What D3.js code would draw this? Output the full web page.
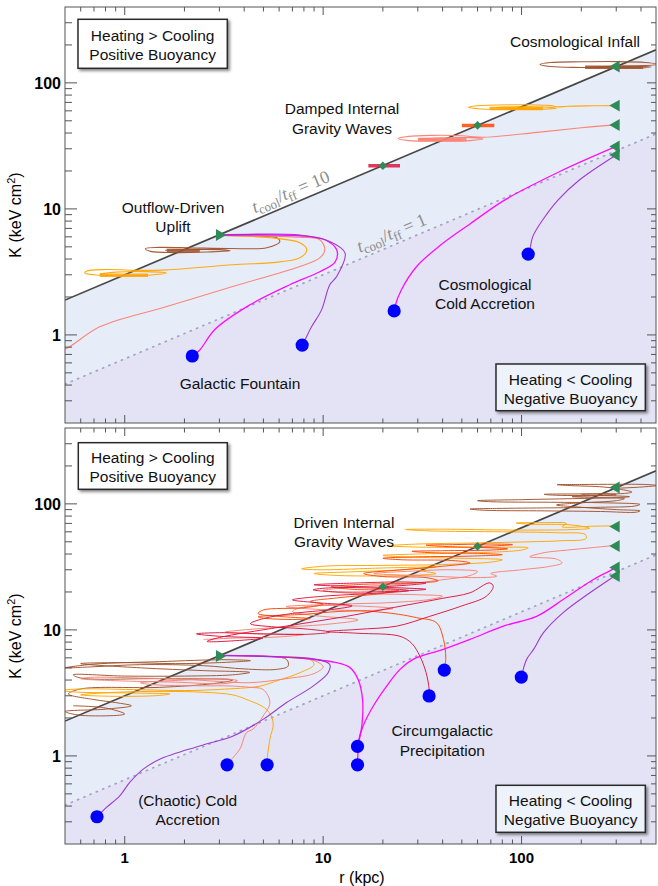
<!DOCTYPE html>
<html><head><meta charset="utf-8">
<script src="https://cdn.jsdelivr.net/npm/d3@7"></script>
<style>body{margin:0;background:#fff}svg{display:block}</style>
</head><body><svg id="c" width="658" height="886"></svg>
<script>
// ---------------- DATA (r in kpc, K in keV cm^2) ----------------
const thresholdR = [0.5, 476];
const ratio10K = [1.89, 182.8];
const ratio1K = [0.407, 39.4];

const infallTriangles = [[300,135],[300,66],[300,46.4],[300,31.3],[300,26.8]];
const outflowTriangle = [[3,6.2]];
const diamonds = [[20,22],[60,46]];
const topDots = [[2.19,0.68],[7.84,0.83],[22.8,1.55],[108,4.38]];
const botDots = [[0.725,0.329],[3.28,0.849],[5.22,0.849],[14.9,1.19],[14.9,0.849],[34.2,2.99],[40.8,4.8],[99.7,4.22]];

// ---- top panel trajectories ----
const topBrownInfall = [[300,135],[420,137],[490,140],[420,145],[300,147.5],[200,147],[140,145],[124,140],[140,135],[200,132.5],[300,131.5],[420,132],[450,134],[380,135.5],[260,135],[210,133],[280,132.5],[400,132.8]];
const topBrownCore = [[209,133],[410,133]];
const topOrangeInfall = [[300,66],[230,65.8],[170,65.3],[153,64.5],[140,66],[110,67],[75,66.8],[58,65.5],[54,64],[60,62.3],[85,61.5],[125,61.8],[150,63],[130,64.3],[95,64.6],[75,63.8],[90,62.8],[125,62.7]];
const topOrangeCore = [[69,62.6],[128,62.6]];
const topSalmonInfall = [[300,46.4],[200,44],[120,40.5],[64,37],[50,38.1],[35,38.3],[27,37.6],[23.9,36.2],[27,34.8],[40,34.4],[55,34.8],[64,36],[55,36.8],[40,36.6],[30,35.8],[35,35.3],[50,35.5]];
const topSalmonCore = [[30.1,35.5],[52.8,35.5]];
const topCrimsonBar = [[16.9,22],[24.4,22]];
const topOredBar = [[50,45.8],[72.9,45.8]];
const topMagentaInfall = [[300,31.3],[156,19.8],[82.5,11.8],[55,7.6],[38.7,5.1],[29.6,3.49],[24.8,2.28],[23,1.68],[22.8,1.55]];
const topPurpleInfall = [[300,26.8],[197,17.1],[153,11.8],[128,8.2],[114,6.05],[110,4.74],[108,4.38]];
const topBrownOut = [[3,6.15],[4.5,6.1],[5.84,5.9],[6.05,5.49],[5.2,4.92],[3.4,4.85],[2.2,4.9],[1.5,4.95],[1.27,4.85],[1.35,4.6],[1.8,4.5],[2.6,4.55],[3.4,4.65],[3.0,4.75],[2.0,4.75],[1.6,4.7]];
const topBrownOutCore = [[1.63,4.68],[2.39,4.68]];
const topOrangeOut = [[3,6.15],[5.39,5.9],[7.63,5.39],[8.27,4.74],[7.63,4.09],[6.05,3.8],[3.5,3.6],[1.63,3.28],[1.2,3.25],[0.8,3.3],[0.64,3.2],[0.629,3.1],[0.7,3.0],[1.0,2.95],[1.4,3.0],[1.62,3.1],[1.3,3.18],[0.9,3.15],[0.75,3.05]];
const topOrangeOutCore = [[0.748,2.97],[1.31,2.97]];
const topSalmonOut = [[3,6.15],[7.63,5.96],[9.62,5.69],[10.2,4.74],[9.62,4.09],[7.63,3.49],[3.5,2.42],[1.63,1.68],[0.748,1.16],[0.508,0.78],[0.45,0.75]];
const topMagentaOut = [[3,6.2],[7.63,6.12],[10.2,5.69],[11.7,4.74],[11.5,3.8],[9.62,3.17],[6.79,2.5],[4.27,1.73],[2.84,1.1],[2.39,0.76],[2.19,0.68]];
const topPurpleOut = [[3,6.2],[7.63,6.2],[10.8,5.52],[12.9,4.46],[11.7,2.91],[10.8,2.5],[9.82,1.58],[8.74,1.16],[8.09,0.91],[7.84,0.83]];

// ---- bottom panel trajectories ----
const botBrownInfall = [[300,133],[400,136],[480,140],[420,142.5],[300,143],[200,142.5],[151,142],[170,140],[260,136],[320,130],[360,124],[330,121],[200,120],[130,119],[150,117],[280,116],[350,114],[300,112],[180,110],[100,108],[60,106],[70,104],[140,103],[260,102],[395,99],[370,96],[250,94],[140,93],[75,92],[55,91],[65,89],[130,88],[250,87],[380,86],[395,88],[300,90],[200,94],[150,98],[200,102],[300,106],[330,110],[260,112],[180,114],[230,116],[300,118],[260,120],[200,119]];
const botOrangeInfall = [[300,67],[230,66.5],[160,66],[168,70],[130,71],[94,70.5],[110,69],[180,68],[220,64],[180,62.5],[90,62],[40,63],[26,62.6],[35,61],[80,60],[150,59],[210,57],[211,53],[160,51],[110,50],[60,49],[30,48],[21.3,46.5],[28,45.5],[60,45],[108,44.8],[100,43],[60,41],[30,40],[20,39],[25,38],[50,37],[80,36],[70,34.5],[40,33],[20,32.5],[10,32],[7.8,30.5],[10,30],[20,31],[37,31.5],[25,30],[15,29],[9,28],[12,27],[25,27],[37,28],[30,29.5]];
const botSalmonInfall = [[300,47],[230,45],[170,43],[130,41],[110,38],[150,36.5],[160,34],[140,32],[100,30],[70,28],[75,26.7],[60,26],[30,27],[18,28],[25,29],[45,30],[60,29],[55,27],[40,25],[25,23],[15,22],[10,20.5],[14,19.5],[30,19],[40,18.5],[35,17.5],[22.5,16.5],[12,16],[6.5,15.3],[9,14.6],[18,14.3],[22.5,14.8],[14,15.5],[8,15.2],[7,14],[9,13],[15,12],[10,11],[6,10.5],[4,10],[3.2,9.6],[4.5,9.3],[8,9.2],[6,8.8],[3.5,8.6],[2.5,8.4]];
const botCrimson = [[20,22],[28,22.8],[33,23.5],[25,24],[14,23.5],[9,22.8],[13,22.2],[25,21.5],[33,21],[24,20.3],[12,20],[8.9,20.8],[11,21.6],[20,21.3],[27,20.5],[18,19.5],[10,18.5],[7,17.3],[9,16.5],[14,15.5],[11,14.5],[7,13.5],[5,12.3],[4.3,11.2],[5.5,10.6],[8,10.2],[10.8,9.6],[8,9.2],[5,9.3],[3,9.5],[2.3,9.3],[3,8.9],[4.97,8.6],[4,8.3],[2.6,8.1],[3,8.7],[6,10.5],[12,12.5],[25,15.5],[40,17.8],[55,19.7],[69,23.6],[72,22.2],[66.5,18.5],[50,15.5],[34.4,12.8],[23.4,10.7],[15,10.1],[10.5,9.7],[15,9.4],[24.4,8.9],[28,7.8],[30.7,6.2],[33,4.6],[34.2,3.4],[34.2,3.0]];
const botOred = [[60,46],[75,46.5],[90,47.5],[70,48],[45,47.5],[33,47],[40,46],[65,45],[85,44],[70,43],[40,42.5],[28,42],[35,41],[60,40.5],[80,39.5],[55,38.5],[30,38],[20,37],[25,36],[45,35.5],[55,34],[40,32],[25,30],[16,28],[20,26.5],[33,26],[38,24.5],[28,23.5],[16,23],[11,22],[14,21],[24,20.5],[20,19.5],[12,18],[8.6,16.8],[10,16],[8,15],[5,14.4],[4.7,13.5],[6,12.8],[8.6,12.3],[7,12.1],[5,12.4],[4.7,12.7],[8,13.3],[12,14],[16.5,14.1],[24,13.3],[29.6,12.5],[37.3,11.4],[40.4,8.4],[41.5,6],[40.8,4.8]];
const botMagentaInfall = [[300,31.9],[290,30.5],[230,25.1],[162,17.4],[119,12.8],[80.9,10.7],[55,8.4],[40.3,7.0],[28.4,5.83],[24.4,4.86],[20.9,3.58],[17.9,2.49],[15.9,1.73],[15.0,1.28],[14.9,1.19]];
const botPurpleInfall = [[300,27.3],[221,19.7],[162,13.7],[129,9.5],[115,7.0],[106,5.83],[99.7,4.22]];
const botBrownOut = [[3,6.27],[4.5,6.2],[6.54,5.83],[6.66,5.16],[5.81,4.86],[4,4.9],[2.5,5.2],[1.2,5.3],[0.7,5.1],[0.5,5.0],[0.7,5.35],[1.5,5.6],[3.2,5.8],[4.3,5.7],[3,5.5],[1.8,5.4],[1.0,5.5],[0.6,5.4],[1.2,5.0],[2.5,4.75],[4.27,4.6],[3.5,4.4],[2,4.3],[1,4.3],[0.55,4.4],[0.6,4.15],[1.5,4.1],[3.5,4.0],[2.8,3.75],[1.5,3.5],[0.6,3.4],[0.52,3.1],[0.7,2.8],[0.9,2.65],[1.08,2.5],[0.8,2.35],[0.5,2.25],[0.6,2.1],[1.0,2.15],[0.8,2.4],[0.55,2.5]];
const botOrangeOut = [[3,6.27],[5.39,6.16],[8.6,5.83],[9,5.3],[7.63,4.57],[6,4.0],[4.79,3.58],[3.01,3.37],[2,3.3],[1.2,3.35],[0.6,3.4],[0.47,3.3],[0.6,3.2],[1.2,3.15],[1.69,3.1],[1.4,3.0],[0.8,2.98],[0.6,3.05],[0.9,3.2],[1.6,3.25],[2.5,3.2],[3.5,3.05],[4.1,2.81],[5.18,2.34],[5.6,1.84],[5.39,1.36],[5.22,0.94],[5.22,0.85]];
const botSalmonOut = [[3,6.27],[6,6.1],[9,5.7],[10,5.1],[9,4.5],[6.5,4.1],[4.27,3.81],[3,3.9],[2,4.05],[1.2,4.15],[0.67,4.2],[0.6,4.1],[0.9,3.95],[1.8,3.85],[3.2,3.75],[3.7,3.95],[3,4.1],[2,4.0],[1.2,3.8],[1.5,3.65],[2.5,3.6],[3.39,3.59],[4.27,3.5],[4.98,3.37],[5.39,2.65],[4.98,2.07],[4.43,1.63],[4.11,1.53],[3.8,1.13],[3.39,0.91],[3.28,0.85]];
const botMagentaOut = [[3,6.27],[5.39,6.16],[8.91,5.83],[11.5,5.52],[13.6,5.04],[15.0,4.05],[15.8,2.81],[15.7,1.78],[15.1,1.24],[14.9,0.85]];
const botPurpleOut = [[3,6.27],[6.05,6.1],[9.4,5.83],[10.8,5.32],[10.6,4.57],[8.9,3.58],[6.54,2.65],[4.98,1.95],[3.52,1.44],[2.39,1.2],[1.5,0.94],[1.24,0.785],[1.06,0.616],[0.944,0.482],[0.809,0.39],[0.725,0.329]];

// ---------------- STYLE ----------------
const BROWN='#a0522d', ORANGE='#ffa500', SALMON='#fa8072', CRIMSON='#dc143c', ORED='#ff4500', MAGENTA='#ff00ff', PURPLE='#9932cc', GREEN='#2e8b57', BLUE='#0000ff';
const FONT = "'Liberation Sans', Arial, Helvetica, sans-serif";

const trajTop = [
  [topBrownInfall,BROWN,1.1],[topBrownCore,BROWN,3.5],
  [topOrangeInfall,ORANGE,1.1],[topOrangeCore,ORANGE,3.5],
  [topSalmonInfall,SALMON,1.1],[topSalmonCore,SALMON,3.5],
  [topCrimsonBar,CRIMSON,3.5],[topOredBar,ORED,3.5],
  [topMagentaInfall,MAGENTA,1.3],[topPurpleInfall,PURPLE,1.1],
  [topBrownOut,BROWN,1.1],[topBrownOutCore,BROWN,3.5],
  [topOrangeOut,ORANGE,1.1],[topOrangeOutCore,ORANGE,3.5],
  [topSalmonOut,SALMON,1.1],[topMagentaOut,MAGENTA,1.3],[topPurpleOut,PURPLE,1.1]
];
const trajBot = [
  [botBrownInfall,BROWN,1.0],[botOrangeInfall,ORANGE,1.0],[botSalmonInfall,SALMON,1.0],
  [botOred,ORED,1.0],[botCrimson,CRIMSON,1.0],
  [botMagentaInfall,MAGENTA,1.3],[botPurpleInfall,PURPLE,1.1],
  [botBrownOut,BROWN,1.0],[botOrangeOut,ORANGE,1.0],[botSalmonOut,SALMON,1.0],
  [botMagentaOut,MAGENTA,1.3],[botPurpleOut,PURPLE,1.1]
];

// ---------------- DRAW ----------------
const svg = d3.select('#c');
const x = d3.scaleLog().domain([0.5,476]).range([65,656]);
const panels = [
  {id:'top', y:d3.scaleLog().domain([0.2,400]).range([423,7]), top:7, bottom:423, traj:trajTop, dots:topDots, labels:true},
  {id:'bot', y:d3.scaleLog().domain([0.2,400]).range([844,428]), top:428, bottom:844, traj:trajBot, dots:botDots, labels:false}
];
const defs = svg.append('defs');
const f = defs.append('filter').attr('id','sh').attr('x','-10%').attr('y','-10%').attr('width','130%').attr('height','140%');
f.append('feDropShadow').attr('dx',2).attr('dy',2).attr('stdDeviation',1.6).attr('flood-color','#000').attr('flood-opacity',0.45);

const L = x.range()[0], R = x.range()[1];

panels.forEach(p => {
  const y = p.y;
  defs.append('clipPath').attr('id','clip-'+p.id).append('rect')
    .attr('x',L).attr('y',p.top).attr('width',R-L).attr('height',p.bottom-p.top);
  const g = svg.append('g').attr('clip-path','url(#clip-'+p.id+')');
  g.append('rect').attr('x',L).attr('y',p.top).attr('width',R-L).attr('height',p.bottom-p.top).attr('fill','#fff');
  const band = thresholdR.map((r,i)=>({r, k1:ratio1K[i], k10:ratio10K[i]}));
  g.append('path').datum(band).attr('fill','#e7edf8')
    .attr('d', d3.area().x(d=>x(d.r)).y0(d=>y(d.k1)).y1(d=>y(d.k10)));
  g.append('path').datum(band).attr('fill','#e3e3f5')
    .attr('d', d3.area().x(d=>x(d.r)).y0(p.bottom).y1(d=>y(d.k1)));
  const straight = d3.line().x(d=>x(d[0])).y(d=>y(d[1]));
  const l1 = thresholdR.map((r,i)=>[r,ratio1K[i]]);
  const l10 = thresholdR.map((r,i)=>[r,ratio10K[i]]);
  g.append('path').datum(l1).attr('d',straight).attr('fill','none').attr('stroke','#a3a3c4')
    .attr('stroke-width',1.7).attr('stroke-dasharray','1.2 5.6').attr('stroke-linecap','round');
  g.append('path').datum(l10).attr('d',straight).attr('fill','none').attr('stroke','#474747').attr('stroke-width',1.7);

  const curve = d3.line().x(d=>x(d[0])).y(d=>y(d[1])).curve(d3.curveCatmullRom.alpha(0.5));
  p.traj.forEach(([pts,col,w]) => {
    g.append('path').datum(pts).attr('d', pts.length>2 ? curve : straight)
      .attr('fill','none').attr('stroke',col).attr('stroke-width',w)
      .attr('stroke-opacity', w>2 ? 0.85 : 0.95).attr('stroke-linejoin','round');
  });

  // markers
  const tri = d3.symbol().type(d3.symbolTriangle).size(62);
  g.selectAll('.tl').data(infallTriangles).join('path')
    .attr('d',tri).attr('fill',GREEN)
    .attr('transform',d=>`translate(${x(d[0])},${y(d[1])}) rotate(-90)`);
  g.selectAll('.tr').data(outflowTriangle).join('path')
    .attr('d',tri).attr('fill',GREEN)
    .attr('transform',d=>`translate(${x(d[0])},${y(d[1])}) rotate(90)`);
  const sq = d3.symbol().type(d3.symbolSquare).size(38);
  g.selectAll('.dm').data(diamonds).join('path')
    .attr('d',sq).attr('fill',GREEN)
    .attr('transform',d=>`translate(${x(d[0])},${y(d[1])}) rotate(45)`);
  g.selectAll('.dot').data(p.dots).join('circle')
    .attr('cx',d=>x(d[0])).attr('cy',d=>y(d[1])).attr('r',6.6).attr('fill',BLUE);

  // threshold labels (top panel only)
  if (p.labels) {
    const p0=[x(thresholdR[0]),y(ratio10K[0])], p1=[x(thresholdR[1]),y(ratio10K[1])];
    const ang = Math.atan2(p1[1]-p0[1], p1[0]-p0[0])*180/Math.PI;
    const onLine = (a,b,px)=>{const t=(px-a[0])/(b[0]-a[0]); return [px, a[1]+t*(b[1]-a[1])];};
    const q0=[x(thresholdR[0]),y(ratio1K[0])], q1=[x(thresholdR[1]),y(ratio1K[1])];
    [[onLine(p0,p1,257),'10'],[onLine(q0,q1,362),'1']].forEach(([pt,val])=>{
      const t = svg.append('text').attr('transform',`translate(${pt[0]},${pt[1]}) rotate(${ang})`)
        .attr('y',-6).attr('font-family',"'Liberation Serif','DejaVu Serif',serif").attr('font-size',18).attr('fill','#8c8c8c');
      t.append('tspan').attr('font-style','italic').text('t');
      t.append('tspan').attr('font-size',13).attr('dy',3.5).text('cool');
      t.append('tspan').attr('dy',-3.5).text('/');
      t.append('tspan').attr('font-style','italic').text('t');
      t.append('tspan').attr('font-size',13).attr('dy',3.5).text('ff');
      t.append('tspan').attr('dy',-3.5).text(' = '+val);
    });
  }

  // frame and ticks
  const ax = svg.append('g').attr('stroke','#555').attr('stroke-width',1);
  const isMajor = v => Math.abs(Math.log10(v)-Math.round(Math.log10(v)))<1e-9;
  x.ticks().filter(v=>v>0.5).forEach(v=>{
    const xx = x(v), len = isMajor(v)?8:4.5;
    ax.append('line').attr('x1',xx).attr('x2',xx).attr('y1',p.top).attr('y2',p.top+len);
    ax.append('line').attr('x1',xx).attr('x2',xx).attr('y1',p.bottom).attr('y2',p.bottom-len);
  });
  y.ticks().filter(v=>v>0.2 && v<400).forEach(v=>{
    const yy = y(v), m = isMajor(v);
    ax.append('line').attr('x1',L).attr('x2',L+(m?12:7)).attr('y1',yy).attr('y2',yy);
    ax.append('line').attr('x1',R).attr('x2',R-(m?9:5)).attr('y1',yy).attr('y2',yy);
  });
  ax.append('rect').attr('x',L).attr('y',p.top).attr('width',R-L).attr('height',p.bottom-p.top).attr('fill','none');

  [100,10,1].forEach(v=>{
    svg.append('text').attr('x',61).attr('y',y(v)).attr('dy','0.36em').attr('text-anchor','end')
      .attr('font-family',FONT).attr('font-size',16).attr('font-weight','bold').attr('fill','#000').text(String(v));
  });
  svg.append('text').attr('transform',`translate(21,${(p.top+p.bottom)/2}) rotate(-90)`)
    .attr('text-anchor','middle').attr('font-family',FONT).attr('font-size',16).attr('fill','#000')
    .html('K (keV cm<tspan font-size="11" dy="-6">2</tspan><tspan dy="6">)</tspan>');
});

// x tick labels and axis title
[1,10,100].forEach(v=>{
  svg.append('text').attr('x',x(v)).attr('y',858).attr('dy','0.36em').attr('text-anchor','middle')
    .attr('font-family',FONT).attr('font-size',15).attr('font-weight','bold').text(String(v));
});
svg.append('text').attr('x',362).attr('y',877).attr('dy','0.36em').attr('text-anchor','middle')
  .attr('font-family',FONT).attr('font-size',16).text('r (kpc)');

// annotations
const notes = [
  ['Cosmological Infall',575,41],
  ['Damped Internal',342,108],['Gravity Waves',342,128],
  ['Outflow-Driven',173,207],['Uplift',173,226],
  ['Galactic Fountain',240,383],
  ['Cosmological',485,284],['Cold Accretion',485,303.5],
  ['Driven Internal',344,522.7],['Gravity Waves',344,541.7],
  ['(Chaotic) Cold',187.7,800.7],['Accretion',187.7,819.5],
  ['Circumgalactic',442.3,730.7],['Precipitation',442.3,750]
];
notes.forEach(([t,xx,yy])=>{
  svg.append('text').attr('x',xx).attr('y',yy).attr('dy','0.36em').attr('text-anchor','middle')
    .attr('font-family',FONT).attr('font-size',15.5).attr('fill','#111').text(t);
});
const boxes = [
  [78,19.3,149.3,49,'#ffffff','Heating > Cooling','Positive Buoyancy',35,54.5],
  [496,364,149.3,46.7,'#eef2fb','Heating < Cooling','Negative Buoyancy',379.3,398.5],
  [78.3,442.7,149,46.6,'#ffffff','Heating > Cooling','Positive Buoyancy',457.7,476.7],
  [496,785.3,149.3,47,'#eef2fb','Heating < Cooling','Negative Buoyancy',800,819]
];
boxes.forEach(([bx,by,bw,bh,fill,t1,t2,y1,y2])=>{
  svg.append('rect').attr('x',bx).attr('y',by).attr('width',bw).attr('height',bh)
    .attr('fill',fill).attr('stroke','#2a2a2a').attr('stroke-width',1.5).attr('filter','url(#sh)');
  [[t1,y1],[t2,y2]].forEach(([t,yy])=>{
    svg.append('text').attr('x',bx+bw/2).attr('y',yy).attr('dy','0.36em').attr('text-anchor','middle')
      .attr('font-family',FONT).attr('font-size',15.5).attr('fill','#111').text(t);
  });
});
</script></body></html>
